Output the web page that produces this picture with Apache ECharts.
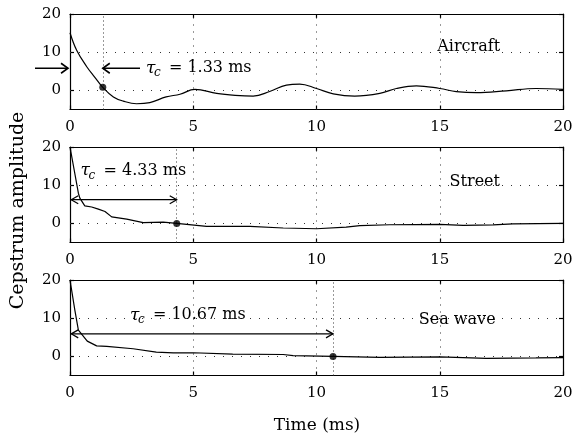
<!DOCTYPE html>
<html>
<head>
<meta charset="utf-8">
<script src="https://cdn.jsdelivr.net/npm/echarts@6/dist/echarts.min.js"></script>
<style>
  html, body { margin: 0; padding: 0; background: #fff; }
  #chart { width: 576px; height: 440px; }
</style>
</head>
<body>
<div id="chart"></div>
<script>
// ---- data ----
const panelNames = ['Aircraft', 'Street', 'Sea wave'];
const tauValues = [1.33, 4.33, 10.67];          // cepstral time constant per signal (ms)
const tauLabels = ['1.33', '4.33', '10.67'];
const tauAmp = [0.8, 0, 0];                      // amplitude of the curve at tau
const arrowLevel = [5.8, 6.2, 5.9];              // amplitude where the tau arrows run

const aircraftTime = [0, 0.27, 0.68, 1.0, 1.33, 1.76, 2.16, 2.7, 3.24, 3.9, 4.46, 5.07, 5.95, 6.7, 7.43, 8.1, 8.78, 9.32, 10.0, 10.68, 11.55, 12.57, 13.24, 14.05, 15.0, 15.67, 16.49, 17.7, 18.9, 20];
const aircraftAmp  = [15.1, 10.5, 6.2, 3.5, 0.8, -1.7, -2.8, -3.5, -3.2, -1.7, -1.0, 0.26, -0.8, -1.3, -1.5, -0.3, 1.4, 1.65, 0.5, -0.9, -1.5, -0.8, 0.5, 1.2, 0.5, -0.3, -0.6, -0.1, 0.5, 0.26];

const streetTime = [0, 0.34, 0.4, 0.6, 0.88, 1.15, 1.42, 1.69, 2.3, 2.97, 3.78, 4.33, 5.54, 7.3, 8.65, 10.0, 11.2, 11.76, 12.97, 15.0, 15.95, 17.16, 17.97, 20];
const streetAmp  = [20, 7.9, 6.6, 4.6, 4.3, 3.75, 3.1, 1.7, 1.1, 0.2, 0.35, 0, -0.8, -0.8, -1.2, -1.4, -1.0, -0.6, -0.35, -0.25, -0.5, -0.4, -0.1, 0];

const seaTime = [0, 0.2, 0.34, 0.7, 1.08, 1.49, 2.56, 3.5, 4.19, 5.0, 6.6, 8.65, 9.05, 10.67, 12.57, 15.0, 16.9, 18.9, 20];
const seaAmp  = [20, 12, 6.9, 4.0, 2.75, 2.6, 2.0, 1.1, 0.9, 0.95, 0.6, 0.5, 0.2, 0, -0.25, -0.15, -0.5, -0.4, -0.3];

const xTicks = [0, 5, 10, 15, 20];
const yTicks = [0, 10, 20];
const xGrid = [5, 10, 15];
const yGrid = [0, 10];

const seriesTime = [aircraftTime, streetTime, seaTime];
const seriesAmp = [aircraftAmp, streetAmp, seaAmp];

// ---- layout / style ----
const FONT = 'DejaVu Serif';
const panelTop = [14, 147, 280];
const panelHeight = 95.5;
// text anchors (data coordinates) for the signal names and the tau captions
const nameAnchor = [[14.9, 11.4], [15.4, 10.9], [14.15, 9.5]];
const tauTextAnchor = [[3.08, 5.8], [0.43, 13.7], [2.43, 10.8]];

const chart = echarts.init(document.getElementById('chart'), null, { renderer: 'canvas' });

const grids = [], xAxes = [], yAxes = [], series = [];

const axisLine = { show: true, onZero: false, lineStyle: { color: '#000', width: 1.2 } };
const tickIn = (vals) => ({ show: true, inside: true, length: 4, lineStyle: { color: '#000', width: 1.2 }, customValues: vals });

function chevron(tip, dir, len, half, width) {
  return {
    type: 'polyline',
    shape: { points: [[tip[0] - dir * len, tip[1] - half], tip, [tip[0] - dir * len, tip[1] + half]] },
    style: { stroke: '#000', fill: null, lineWidth: width }
  };
}
function hline(a, b, width) {
  return { type: 'line', shape: { x1: a[0], y1: a[1], x2: b[0], y2: b[1] }, style: { stroke: '#000', lineWidth: width } };
}
function tauCaption(p, label) {
  return [
    { type: 'text', style: { x: p[0], y: p[1], text: 'τ', font: 'italic 17px ' + FONT, fill: '#000', verticalAlign: 'middle', align: 'left' } },
    { type: 'text', style: { x: p[0] + 8, y: p[1] + 5, text: 'c', font: 'italic 12px ' + FONT, fill: '#000', verticalAlign: 'middle', align: 'left' } },
    { type: 'text', style: { x: p[0] + 23, y: p[1], text: '= ' + label + ' ms', font: '16px ' + FONT, fill: '#000', verticalAlign: 'middle', align: 'left' } }
  ];
}

for (let i = 0; i < 3; i++) {
  grids.push({ left: 70, right: 13, top: panelTop[i], height: panelHeight, containLabel: false });

  xAxes.push({
    gridIndex: i, type: 'value', min: 0, max: 20, interval: 5, position: 'bottom',
    axisLine, axisTick: tickIn(xTicks),
    axisLabel: { show: true, color: '#000', fontFamily: FONT, fontSize: 15, margin: 10, customValues: xTicks },
    splitLine: { show: false }
  });
  xAxes.push({
    gridIndex: i, type: 'value', min: 0, max: 20, interval: 5, position: 'top',
    axisLine, axisTick: tickIn(xTicks), axisLabel: { show: false }, splitLine: { show: false }
  });
  yAxes.push({
    gridIndex: i, type: 'value', min: -5, max: 20, position: 'left',
    axisLine, axisTick: tickIn(yTicks),
    axisLabel: { show: true, color: '#000', fontFamily: FONT, fontSize: 15, margin: 9, customValues: yTicks },
    splitLine: { show: false }
  });
  yAxes.push({
    gridIndex: i, type: 'value', min: -5, max: 20, position: 'right',
    axisLine, axisTick: tickIn(yTicks), axisLabel: { show: false }, splitLine: { show: false }
  });

  const gridLines = [];
  xGrid.forEach(v => gridLines.push({ xAxis: v, lineStyle: { type: [1, 6], color: '#333', width: 1 } }));
  yGrid.forEach(v => gridLines.push({ yAxis: v, lineStyle: { type: [1, 8], color: '#333', width: 1 } }));
  gridLines.push({ xAxis: tauValues[i], lineStyle: { type: [1, 3], color: '#333', width: 1 } });

  series.push({
    type: 'line', xAxisIndex: 2 * i, yAxisIndex: 2 * i,
    data: seriesTime[i].map((t, k) => [t, seriesAmp[i][k]]),
    smooth: i === 0 ? 0.4 : false,
    showSymbol: false, symbol: 'none', silent: true, animation: false, z: 3,
    lineStyle: { color: '#000', width: 1.2 },
    markLine: { silent: true, symbol: 'none', animation: false, label: { show: false }, data: gridLines, z: 1 }
  });

  series.push({
    type: 'scatter', xAxisIndex: 2 * i, yAxisIndex: 2 * i,
    data: [[tauValues[i], tauAmp[i]]], symbolSize: 7, silent: true, animation: false, z: 4,
    itemStyle: { color: '#000' }
  });

  series.push({
    type: 'custom', xAxisIndex: 2 * i, yAxisIndex: 2 * i, silent: true, animation: false, z: 5,
    data: [[tauValues[i], arrowLevel[i]]],
    renderItem: (params, api) => {
      const tau = api.value(0), lvl = api.value(1);
      const children = [];
      if (i === 0) {
        // arrows pointing inward from both sides of tau
        const outerTail = api.coord([-1.42, lvl]), outerHead = api.coord([-0.08, lvl]);
        children.push(hline(outerTail, outerHead, 1.6), chevron(outerHead, 1, 7, 5, 1.6));
        const innerTail = api.coord([2.84, lvl]), innerHead = api.coord([tau, lvl]);
        children.push(hline(innerTail, innerHead, 1.6), chevron(innerHead, -1, 7, 5, 1.6));
      } else {
        // double-headed arrow from 0 to tau
        const a = api.coord([0.05, lvl]), b = api.coord([tau, lvl]);
        children.push(hline(a, b, 1.2), chevron(a, -1, 7, 4, 1.2), chevron(b, 1, 7, 4, 1.2));
      }
      children.push(...tauCaption(api.coord(tauTextAnchor[i]), tauLabels[i]));
      const np = api.coord(nameAnchor[i]);
      children.push({ type: 'text', style: { x: np[0], y: np[1], text: panelNames[i], font: '16px ' + FONT, fill: '#000', verticalAlign: 'middle', align: 'left' } });
      return { type: 'group', children };
    }
  });
}

chart.setOption({
  animation: false,
  backgroundColor: '#fff',
  grid: grids,
  xAxis: xAxes,
  yAxis: yAxes,
  series,
  graphic: [
    { type: 'text', x: 317, y: 426, style: { text: 'Time (ms)', font: '17px ' + FONT, fill: '#000', align: 'center', verticalAlign: 'middle' } },
    { type: 'text', x: 18, y: 210.5, rotation: Math.PI / 2, style: { text: 'Cepstrum amplitude', font: '19px ' + FONT, fill: '#000', align: 'center', verticalAlign: 'middle' } }
  ]
});
</script>
</body>
</html>
